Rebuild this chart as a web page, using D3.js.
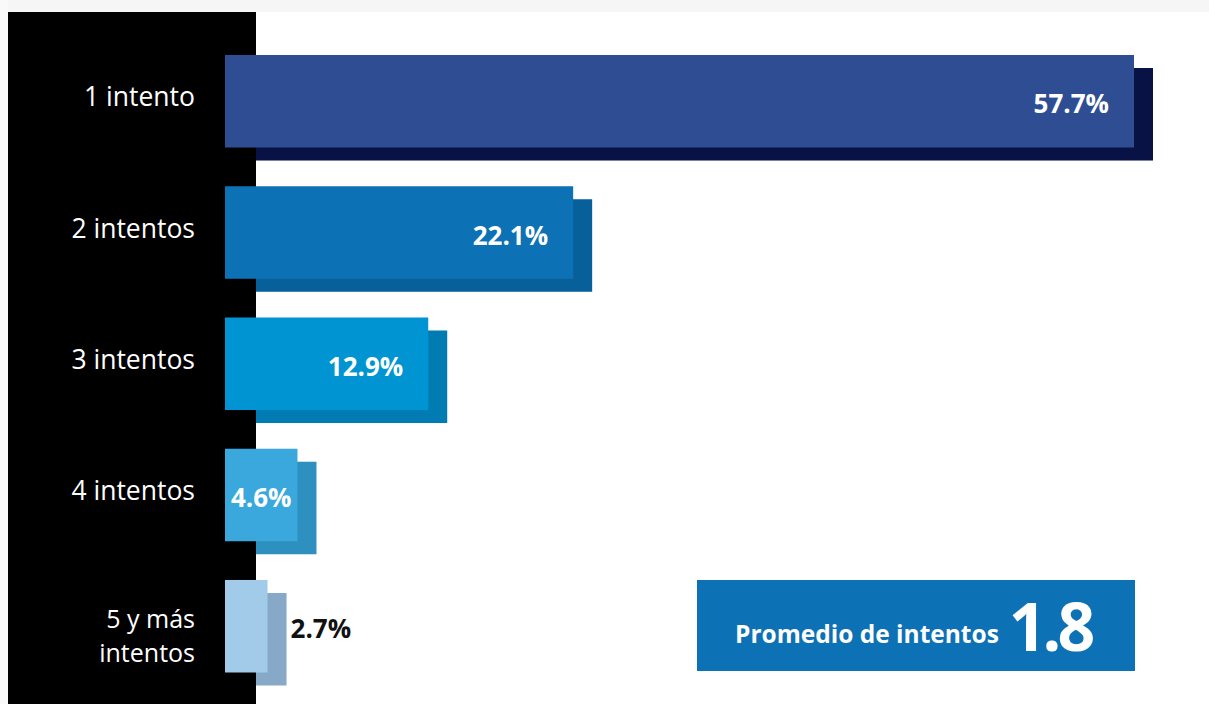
<!DOCTYPE html>
<html>
<head>
<meta charset="utf-8">
<script src="https://cdn.jsdelivr.net/npm/d3@7"></script>
<style>
  html, body { margin: 0; padding: 0; background: #ffffff; }
  svg { display: block; font-family: "Open Sans", "Noto Sans", sans-serif; }
</style>
</head>
<body>
<svg id="chart" width="1209" height="704"></svg>
<script>
// Distribución de alumnos según número de intentos
const categories = ["1 intento", "2 intentos", "3 intentos", "4 intentos", "5 y más|intentos"];
const values = [57.7, 22.1, 12.9, 4.6, 2.7];
const frontColors = ["#2f4d92", "#0d71b5", "#0095d2", "#3aa8dc", "#a2cbe9"];
const shadowColors = ["#081244", "#07609a", "#007cb2", "#2e90bf", "#86a9c8"];
const averageLabel = "Promedio de intentos";
const averageValue = 1.8;

const svg = d3.select("#chart");
const W = 1209, H = 704;

// soft frame around the panel
svg.append("rect").attr("x", 0).attr("y", 0).attr("width", W).attr("height", 12).attr("fill", "#f6f6f6");
svg.append("rect").attr("x", 0).attr("y", 0).attr("width", 8).attr("height", H).attr("fill", "#f9f9f9");

const x = d3.scaleLinear().domain([0, 57.7]).range([225, 1134]);
const y = d3.scaleBand().domain(categories).range([55, 672.5]).paddingInner(0.295).paddingOuter(0);
const bh = y.bandwidth();
const dx = 19, dy = 13;

// shadow bars (behind the label panel)
svg.selectAll("rect.shadow").data(values).join("rect")
  .attr("class", "shadow")
  .attr("x", x(0) + dx)
  .attr("y", (d, i) => y(categories[i]) + dy)
  .attr("width", d => x(d) - x(0))
  .attr("height", bh)
  .attr("fill", (d, i) => shadowColors[i]);

// black label panel
svg.append("rect").attr("x", 8).attr("y", 12).attr("width", 248).attr("height", H - 12).attr("fill", "#000");

// front bars
svg.selectAll("rect.front").data(values).join("rect")
  .attr("class", "front")
  .attr("x", x(0))
  .attr("y", (d, i) => y(categories[i]))
  .attr("width", d => x(d) - x(0))
  .attr("height", bh)
  .attr("fill", (d, i) => frontColors[i]);

// category labels (a "|" splits a label over two lines)
categories.forEach((c, i) => {
  const lines = c.split("|");
  const cy = y(c) + bh / 2;
  if (lines.length === 1) {
    svg.append("text")
      .attr("x", 195).attr("y", cy + 5)
      .attr("text-anchor", "end").attr("fill", "#fff")
      .attr("font-size", 26.5)
      .text(lines[0]);
  } else {
    lines.forEach((line, k) => {
      svg.append("text")
        .attr("x", 195).attr("y", cy + 2 + k * 34)
        .attr("text-anchor", "end").attr("fill", "#fff")
        .attr("font-size", 25)
        .text(line);
    });
  }
});

// value labels
const fmt = d => d.toFixed(1) + "%";
values.forEach((v, i) => {
  const w = x(v) - x(0);
  const cy = y(categories[i]) + bh / 2 + 12;
  const t = svg.append("text")
    .attr("font-size", 26)
    .attr("font-weight", 700)
    .attr("y", cy)
    .text(fmt(v));
  if (w > 150) {
    t.attr("x", x(v) - 25).attr("text-anchor", "end").attr("fill", "#fff");
  } else if (w > 60) {
    t.attr("x", x(0) + w / 2).attr("text-anchor", "middle").attr("fill", "#fff");
  } else {
    t.attr("x", x(v) + dx + 4).attr("text-anchor", "start").attr("fill", "#111");
  }
});

// average box
svg.append("rect").attr("x", 697).attr("y", 580).attr("width", 438).attr("height", 91).attr("fill", "#0d71b5");
const avg = svg.append("text").attr("x", 735).attr("y", 643).attr("fill", "#fff").attr("font-weight", 700);
avg.append("tspan").attr("font-size", 24.5).text(averageLabel);
avg.append("tspan").attr("font-size", 66).attr("dy", 8).attr("letter-spacing", -4).attr("dx", 10).text(averageValue.toFixed(1));
</script>
</body>
</html>
